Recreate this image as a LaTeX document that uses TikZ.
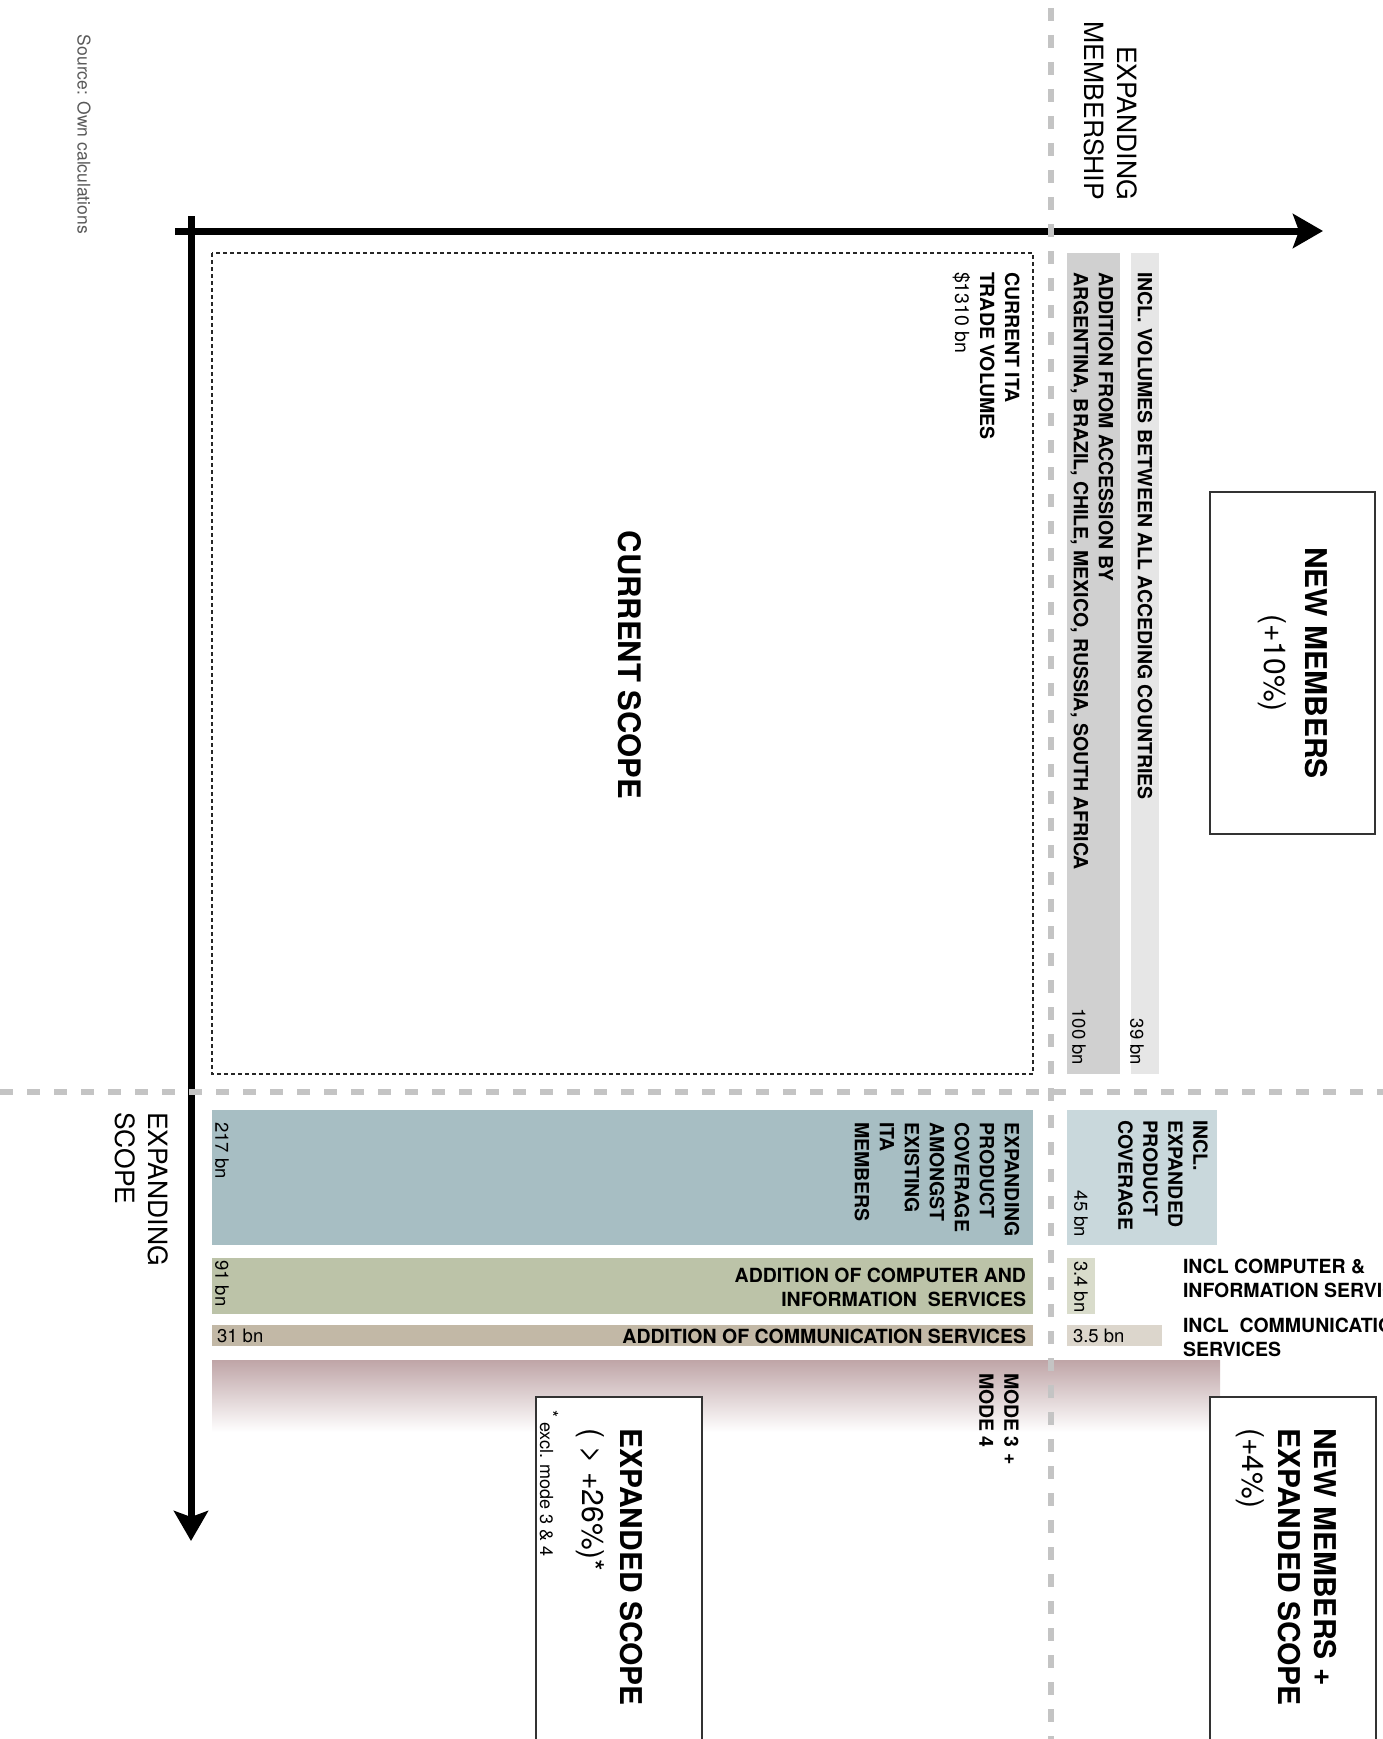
\documentclass[tikz,border=0pt]{standalone}
\usepackage{fontspec}
\setmainfont{TeX Gyre Heros}
\usetikzlibrary{arrows.meta}

\definecolor{accgray}{HTML}{D0D0D0}
\definecolor{volgray}{HTML}{E6E6E6}
\definecolor{covblue}{HTML}{A7BEC3}
\definecolor{covlight}{HTML}{C9D8DC}
\definecolor{compgreen}{HTML}{BCC3A8}
\definecolor{complight}{HTML}{D9DCCB}
\definecolor{commtan}{HTML}{C2B8A6}
\definecolor{commlight}{HTML}{DCD6CC}
\definecolor{moderose}{HTML}{BFA5A7}
\definecolor{gridgray}{HTML}{C4C4C4}

\begin{document}
\begin{tikzpicture}
  [x=1pt,y=-1pt,every node/.style={inner sep=0pt,outer sep=0pt},
   vlabel/.style={rotate=-90,align=left,font=\fontsize{19.5}{25}\selectfont\bfseries},
   vnum/.style={rotate=-90,font=\fontsize{18.5}{22}\selectfont},
   hlabel/.style={align=left,font=\fontsize{19.5}{24}\selectfont\bfseries},
   axislabel/.style={rotate=-90,font=\fontsize{26.5}{33}\selectfont},
   bigtext/.style={rotate=-90,align=left,font=\fontsize{30}{38}\selectfont},
   bigbox/.style={draw=black!80,line width=2pt,fill=white},
   axis/.style={line width=7pt,-{Stealth[length=30pt,width=34pt,inset=6pt]}},
   gridline/.style={gridgray,line width=6pt,dash pattern=on 13pt off 14pt}]
  \useasboundingbox (0,0) rectangle (1383,1739);

  % coloured bars
  \foreach \col/\xa/\ya/\xb/\yb in {accgray/1067/253/1120/1074, volgray/1131/253/1159/1074,
      covblue/212/1110/1033/1245, covlight/1067/1110/1217/1245,
      compgreen/212/1258/1033/1314, complight/1067/1258/1095/1314,
      commtan/212/1325/1033/1346, commlight/1067/1325/1162/1346}
    \fill[\col] (\xa,\ya) rectangle (\xb,\yb);
  \shade[top color=moderose,bottom color=white] (212,1360) rectangle (1220,1432);

  % current scope
  \draw[black!85,line width=2pt,dash pattern=on 4pt off 3pt] (212,253) rectangle (1033,1074);
  \node[rotate=-90,font=\fontsize{31}{36}\selectfont\bfseries] (scope) at (630,665) {CURRENT SCOPE};
  \node[vlabel,anchor=west] (ita) at (986,272)
    {CURRENT ITA\\TRADE VOLUMES\\\mdseries\$1310 bn};

  % new members
  \node[vlabel,anchor=west] (accession) at (1092,272)
    {ADDITION FROM ACCESSION BY\\ARGENTINA, BRAZIL, CHILE, MEXICO, RUSSIA, SOUTH AFRICA};
  \node[vlabel,anchor=west] (volumes) at (1145,272) {INCL. VOLUMES BETWEEN ALL ACCEDING COUNTRIES};
  \node[vnum,anchor=east] (n100) at (1079,1065) {100 bn};
  \node[vnum,anchor=east] (n39) at (1137,1065) {39 bn};

  % expanded scope
  \node[vlabel,anchor=west] (coverage) at (937,1122)
    {EXPANDING\\PRODUCT\\COVERAGE\\AMONGST\\EXISTING\\ITA\\MEMBERS};
  \node[vnum,anchor=west] (n217) at (222,1122) {217 bn};
  \node[hlabel,align=right,anchor=east] (computer) at (1026,1287)
    {ADDITION OF COMPUTER AND\\INFORMATION\ \ SERVICES};
  \node[vnum,anchor=west] (n91) at (222,1260) {91 bn};
  \node[hlabel,anchor=east] (communication) at (1026,1336) {ADDITION OF COMMUNICATION SERVICES};
  \node[font=\fontsize{18.5}{22}\selectfont,anchor=west] (n31) at (217,1336) {31 bn};
  \node[vlabel,anchor=west] (modes) at (999,1373) {MODE 3 +\\MODE 4};

  % new members + expanded scope
  \node[vlabel,anchor=west] (inclcov) at (1163,1120) {INCL.\\EXPANDED\\PRODUCT\\COVERAGE};
  \node[vnum,anchor=east] (n45) at (1081,1237) {45 bn};
  \node[vnum,anchor=west] (n34) at (1081,1261) {3.4 bn};
  \node[font=\fontsize{18.5}{22}\selectfont,anchor=west] (n35) at (1073,1336) {3.5 bn};
  \node[hlabel,anchor=west] (inclcomp) at (1183,1278) {INCL COMPUTER \&\\INFORMATION SERVICES};
  \node[hlabel,anchor=west] (inclcomm) at (1183,1337) {INCL\ \ COMMUNICATION\\SERVICES};

  % axes
  \coordinate (xstart) at (175,231);
  \coordinate (xend) at (1323,231);
  \coordinate (ystart) at (191,216);
  \coordinate (yend) at (191,1541);
  \draw[axis] (xstart) -- (xend);
  \draw[axis] (ystart) -- (yend);
  \node[axislabel,align=right,anchor=east] (membership) at (1111,200) {EXPANDING\\MEMBERSHIP};
  \node[axislabel,align=left,anchor=west] (scopeaxis) at (142,1112) {EXPANDING\\SCOPE};
  \node[rotate=-90,anchor=west,text=black!65,font=\fontsize{17.5}{20}\selectfont] (source) at (84,35)
    {Source: Own calculations};

  % dashed separators
  \coordinate (vtop) at (1051,8);
  \coordinate (vbottom) at (1051,1739);
  \coordinate (hleft) at (0,1092);
  \coordinate (hright) at (1383,1092);
  \draw[gridline] (vtop) -- (vbottom);
  \draw[gridline] (hleft) -- (hright);

  % result boxes
  \node[bigbox,rotate=-90,minimum width=342pt,minimum height=165pt,align=center,
    font=\fontsize{30}{41}\selectfont] (newmem) at (1292.5,663) {\textbf{NEW MEMBERS}\\(+10\%)};
  \draw[bigbox] (536,1397) rectangle (702,1780);
  \node[bigtext,anchor=north west] (expanded) at (643,1428) {\textbf{EXPANDED SCOPE}\\( > +26\%)*};
  \node[rotate=-90,anchor=west,font=\fontsize{18}{20}\selectfont] (excl) at (549,1410)
    {\raisebox{5pt}{*} excl. mode 3 \& 4};
  \draw[bigbox] (1210,1397) rectangle (1376,1780);
  \node[bigtext,anchor=north west,font=\fontsize{30}{36}\selectfont] (both) at (1337,1428)
    {\textbf{NEW MEMBERS +}\\\textbf{EXPANDED SCOPE}\\(+4\%)};
\end{tikzpicture}
\end{document}
